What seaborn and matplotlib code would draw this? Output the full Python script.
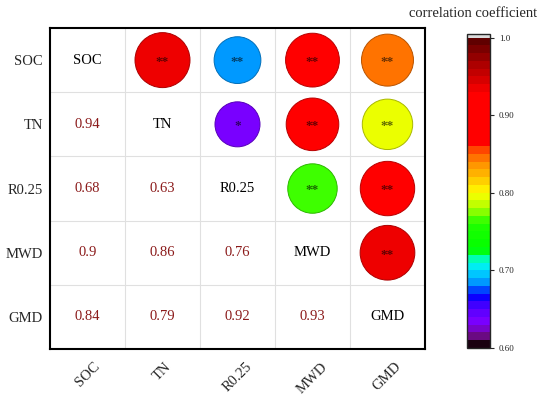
import numpy as np
import pandas as pd
import matplotlib
matplotlib.use("Agg")
import matplotlib.pyplot as plt
import seaborn as sns
from matplotlib.colors import LinearSegmentedColormap, Normalize
from matplotlib.cm import ScalarMappable

labels = ["SOC", "TN", "R0.25", "MWD", "GMD"]
# pairwise correlations (row var, col var, r, significance)
var_a = ["SOC", "SOC", "SOC", "SOC", "TN", "TN", "TN", "R0.25", "R0.25", "MWD"]
var_b = ["TN", "R0.25", "MWD", "GMD", "R0.25", "MWD", "GMD", "MWD", "GMD", "GMD"]
r_vals = [0.94, 0.68, 0.90, 0.84, 0.63, 0.86, 0.79, 0.76, 0.92, 0.93]
signif = ["**", "**", "**", "**", "*", "**", "**", "**", "**", "**"]

cb_ticks = [0.60, 0.70, 0.80, 0.90, 1.0]
cb_ticklabels = ["0.60", "0.70", "0.80", "0.90", "1.0"]

sns.set_theme(style="white")
plt.rcParams["font.family"] = ["Liberation Serif", "DejaVu Serif"]

stops = [
    (0.00, "#1a0010"), (0.025, "#6a0a80"), (0.07, "#8000ff"), (0.12, "#5000ff"),
    (0.16, "#0000ff"), (0.20, "#0090ff"), (0.25, "#00e8ff"), (0.28, "#00ffc0"),
    (0.31, "#00ff00"), (0.40, "#20ff00"), (0.45, "#b0ff00"), (0.50, "#ffff00"),
    (0.55, "#ffc000"), (0.60, "#ff8c00"), (0.64, "#ff4a00"), (0.66, "#ff0000"),
    (0.83, "#ff0000"), (0.86, "#e00000"), (0.92, "#b00000"), (1.00, "#600000"),
]
cmap = LinearSegmentedColormap.from_list("corr", stops, N=40)
cmap.set_over("#dcdcdc")
norm = Normalize(0.6, 1.0)

idx = {l: i for i, l in enumerate(labels)}
df = pd.DataFrame({
    "x": [idx[b] for b in var_b],
    "y": [idx[a] for a in var_a],
    "r": r_vals,
})

fig = plt.figure(figsize=(5.5, 3.98), dpi=100)
ax = fig.add_axes([0.0909, 0.123, 0.6818, 0.8066])

sns.scatterplot(data=df, x="x", y="y", hue="r", palette=cmap, hue_norm=norm,
                size="r", sizes=(1000, 1668), size_norm=(0.6, 1.0),
                linewidth=0.7, legend=False, ax=ax, zorder=3)
coll = ax.collections[-1]
fc = coll.get_facecolors()
ec = fc.copy()
ec[:, :3] = ec[:, :3] * 0.72
coll.set_edgecolors(ec)

for a, b, r, s in zip(var_a, var_b, r_vals, signif):
    ax.text(idx[b], idx[a] + 0.03, s, ha="center", va="center", fontsize=9.5,
            color="black", alpha=0.6, fontweight="bold", zorder=4)
    ax.text(idx[a], idx[b], f"{r:g}", ha="center", va="center", fontsize=10.5,
            color="#8b1a1a", zorder=4)
for i, l in enumerate(labels):
    ax.text(i, i, l, ha="center", va="center", fontsize=10.5, color="black", zorder=4)

ax.set_xlim(-0.5, 4.5)
ax.set_ylim(4.5, -0.5)
ax.set_xticks(range(5))
ax.set_yticks(range(5))
ax.set_xticklabels(labels, rotation=45, fontsize=10.5)
ax.set_yticklabels(labels, fontsize=10.5)
ax.tick_params(axis="x", length=0, pad=8)
ax.tick_params(axis="y", length=0, pad=5)
ax.set_xlabel("")
ax.set_ylabel("")
for k in np.arange(0.5, 4.5, 1):
    ax.axvline(k, color="#e0e0e0", lw=0.8, zorder=1)
    ax.axhline(k, color="#e0e0e0", lw=0.8, zorder=1)
for sp in ax.spines.values():
    sp.set_color("black")
    sp.set_linewidth(1.5)

cax = fig.add_axes([0.849, 0.126, 0.042, 0.789])
cb = fig.colorbar(ScalarMappable(norm=norm, cmap=cmap), cax=cax,
                  extend="max", extendrect=True, extendfrac=0.012)
cb.set_ticks(cb_ticks)
cb.set_ticklabels(cb_ticklabels)
cb.ax.tick_params(labelsize=6.5, length=3, width=0.8)
cb.outline.set_linewidth(1.0)
fig.text(0.86, 0.965, "correlation coefficient", ha="center", va="center", fontsize=10.5)

fig.savefig("out.png", dpi=100)
